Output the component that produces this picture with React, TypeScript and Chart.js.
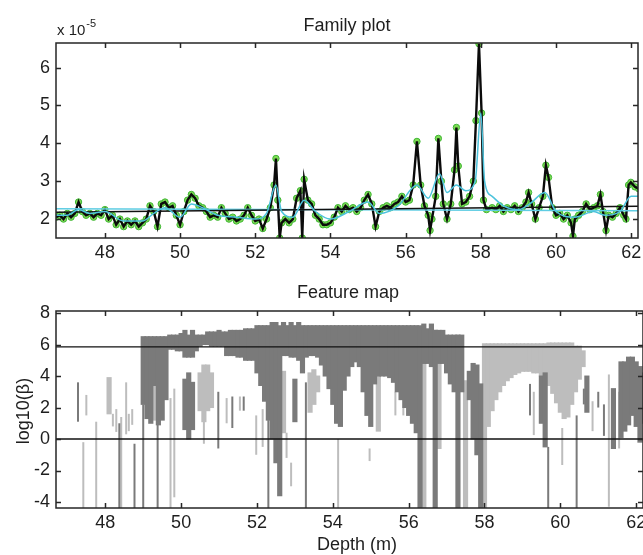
import React, { useEffect, useRef } from "react";
import { Chart, registerables } from "chart.js";

Chart.register(...registerables);

const FONT = '"Liberation Sans", Arial, Helvetica, sans-serif';

// ---------- axes ----------
const depthRange = [46.7, 62.18];
const depthTicks = [48, 50, 52, 54, 56, 58, 60, 62];
const familyRange = [1.5, 6.65];
const familyTicks = [2, 3, 4, 5, 6];
const featureRange = [-4.38, 8.13];
const featureTicks = [-4, -2, 0, 2, 4, 6, 8];

// ---------- Family plot (x 10^-5) ----------
const signal: [number, number][] = [
  [46.7, 2.05], [46.8, 2.1], [46.9, 2.0], [47.0, 2.15], [47.1, 2.05], [47.2, 2.15], [47.3, 2.45], [47.4, 2.2],
  [47.5, 2.1], [47.6, 2.15], [47.7, 2.05], [47.8, 2.15], [47.9, 2.1], [48.0, 2.25], [48.1, 2.0], [48.2, 2.1],
  [48.3, 1.85], [48.4, 2.0], [48.5, 1.8], [48.6, 1.95], [48.7, 1.85], [48.8, 1.95], [48.9, 1.8], [49.0, 1.9],
  [49.1, 2.0], [49.2, 2.35], [49.3, 2.2], [49.4, 1.8], [49.5, 2.4], [49.6, 2.45], [49.7, 2.3], [49.8, 2.35],
  [49.9, 2.1], [50.0, 1.85], [50.1, 2.2], [50.2, 2.5], [50.3, 2.65], [50.4, 2.55], [50.5, 2.35], [50.6, 2.3],
  [50.7, 2.2], [50.8, 2.05], [50.9, 2.1], [51.0, 2.05], [51.1, 2.3], [51.2, 2.15], [51.3, 2.0], [51.4, 2.05],
  [51.5, 1.95], [51.6, 2.0], [51.7, 2.1], [51.8, 2.3], [51.9, 2.1], [52.0, 1.95], [52.1, 2.0], [52.2, 1.75],
  [52.3, 2.0], [52.4, 2.3], [52.5, 2.9], [52.55, 3.6], [52.6, 2.5], [52.65, 1.5], [52.7, 1.9], [52.8, 2.0],
  [52.9, 1.9], [53.0, 2.0], [53.1, 2.55], [53.2, 2.75], [53.25, 1.5], [53.3, 3.05], [53.4, 2.5], [53.5, 2.4],
  [53.6, 2.1], [53.7, 2.0], [53.8, 1.85], [53.9, 1.85], [54.0, 1.9], [54.1, 2.05], [54.2, 2.3], [54.3, 2.2],
  [54.4, 2.35], [54.5, 2.25], [54.6, 2.3], [54.7, 2.2], [54.8, 2.3], [54.9, 2.5], [55.0, 2.65], [55.1, 2.4],
  [55.2, 1.8], [55.3, 2.2], [55.4, 2.3], [55.5, 2.35], [55.6, 2.3], [55.7, 2.4], [55.8, 2.45], [55.9, 2.6],
  [56.0, 2.45], [56.1, 2.5], [56.2, 2.9], [56.3, 4.05], [56.4, 2.9], [56.5, 2.35], [56.6, 2.1], [56.65, 1.7],
  [56.7, 2.0], [56.8, 2.6], [56.87, 4.13], [56.95, 3.0], [57.0, 2.4], [57.1, 2.0], [57.2, 2.4], [57.3, 3.3],
  [57.35, 4.42], [57.4, 3.4], [57.5, 2.4], [57.6, 2.45], [57.7, 2.6], [57.8, 3.0], [57.87, 4.6], [57.95, 6.63],
  [58.02, 4.8], [58.07, 2.5], [58.15, 2.25], [58.3, 2.3], [58.4, 2.25], [58.5, 2.35], [58.6, 2.2], [58.7, 2.3],
  [58.8, 2.25], [58.9, 2.35], [59.0, 2.2], [59.1, 2.3], [59.2, 2.45], [59.27, 2.7], [59.35, 2.4], [59.45, 2.0],
  [59.55, 2.3], [59.65, 2.6], [59.73, 3.42], [59.8, 3.1], [59.9, 2.3], [60.0, 2.1], [60.1, 2.15], [60.2, 2.0],
  [60.3, 2.1], [60.4, 1.9], [60.45, 1.55], [60.5, 2.0], [60.6, 2.1], [60.7, 2.2], [60.8, 2.4], [60.9, 2.25],
  [61.0, 2.3], [61.1, 2.35], [61.18, 2.65], [61.25, 2.2], [61.33, 1.7], [61.4, 2.1], [61.5, 2.05], [61.6, 2.15],
  [61.7, 2.3], [61.8, 2.1], [61.86, 2.0], [61.93, 2.9], [61.99, 2.97], [62.1, 2.85], [62.2, 2.8],
];

const fit: [number, number][] = [
  [46.7, 2.1], [47.0, 2.1], [47.3, 2.25], [47.6, 2.15], [48.0, 2.2], [48.5, 1.95], [49.0, 1.95], [49.3, 2.15],
  [49.6, 2.3], [50.0, 2.05], [50.3, 2.4], [50.6, 2.3], [51.0, 2.1], [51.5, 2.05], [52.0, 2.0], [52.3, 2.15],
  [52.55, 2.9], [52.7, 2.2], [53.0, 2.05], [53.3, 2.5], [53.6, 2.2], [54.0, 2.0], [54.5, 2.2], [55.0, 2.45],
  [55.3, 2.15], [55.8, 2.35], [56.3, 2.9], [56.6, 2.55], [56.9, 3.2], [57.1, 2.7], [57.35, 2.9], [57.6, 2.75],
  [57.85, 3.0], [58.0, 4.8], [58.1, 3.0], [58.3, 2.6], [58.6, 2.35], [59.0, 2.25], [59.3, 2.4], [59.7, 2.7],
  [60.0, 2.2], [60.5, 2.05], [61.0, 2.2], [61.3, 2.1], [61.7, 2.2], [62.0, 2.6], [62.2, 2.6],
];

const baseDepth = [46.7, 62.2];
const baseBlack = [2.18, 2.34];
const baseCyan = [2.27, 2.22];

// ---------- Feature map: [depth, low, high] ----------
const darkColumns: [number, number, number][] = [
  [49.0, 2.2, 6.5], [49.1, 1.3, 6.5], [49.2, 1.0, 6.5], [49.3, 3.4, 6.5], [49.4, 0.9, 6.5], [49.5, 1.2, 6.5],
  [49.6, 2.5, 6.5], [49.7, 5.7, 6.6], [49.8, 5.7, 6.6], [49.9, 5.6, 6.6], [50.0, 5.6, 6.7], [50.1, 5.2, 6.9],
  [50.2, 5.2, 6.6], [50.3, 5.2, 6.9], [50.4, 5.6, 6.6], [50.5, 5.9, 6.6], [50.6, 6.0, 6.6], [50.7, 6.0, 6.8],
  [50.8, 5.9, 6.8], [50.9, 5.9, 6.8], [51.0, 5.9, 6.9], [51.1, 5.9, 6.8], [51.2, 5.3, 6.8], [51.3, 5.3, 6.9],
  [51.4, 5.3, 6.9], [51.5, 5.2, 6.9], [51.6, 5.2, 6.9], [51.7, 5.0, 7.0], [51.8, 5.0, 7.0], [51.9, 5.0, 7.0],
  [52.0, 4.2, 7.2], [52.1, 3.4, 7.2], [52.2, 2.4, 7.2], [52.3, 1.2, 7.2], [52.4, 0.0, 7.4], [52.5, -1.5, 7.4],
  [52.6, -3.6, 7.2], [52.7, 5.3, 7.4], [52.8, 5.3, 7.2], [52.9, 5.2, 7.4], [53.0, 5.2, 7.2], [53.1, 5.0, 7.4],
  [53.2, 4.2, 7.2], [53.3, 5.2, 7.2], [53.4, 5.3, 7.2], [53.5, 5.3, 7.2], [53.6, 5.2, 7.2], [53.7, 4.7, 7.2],
  [53.8, 4.0, 7.2], [53.9, 3.2, 7.2], [54.0, 2.2, 7.2], [54.1, 1.0, 7.2], [54.2, 0.8, 7.2], [54.3, 3.1, 7.2],
  [54.4, 4.0, 7.2], [54.5, 4.6, 7.2], [54.6, 4.9, 7.2], [54.7, 4.6, 7.2], [54.8, 3.0, 7.2], [54.9, 1.5, 7.2],
  [55.0, 0.8, 7.2], [55.1, 3.5, 7.2], [55.2, 4.0, 7.2], [55.3, 4.0, 7.2], [55.4, 4.0, 7.2], [55.5, 3.9, 7.2],
  [55.6, 3.6, 7.2], [55.7, 3.0, 7.2], [55.8, 2.5, 7.2], [55.9, 2.0, 7.2], [56.0, 1.5, 7.2], [56.1, 1.0, 7.2],
  [56.2, 0.4, 7.2], [56.3, -4.4, 7.2], [56.4, 4.8, 7.3], [56.5, 4.8, 7.0], [56.6, 4.6, 7.3], [56.7, -4.4, 6.9],
  [56.8, 4.8, 6.9], [56.9, 4.8, 6.9], [57.0, 4.2, 6.6], [57.1, 3.5, 6.6], [57.2, 3.0, 6.6], [57.3, -4.4, 6.6],
  [57.4, 3.0, 6.6],
  [50.1, 0.6, 3.8], [50.2, 0.0, 4.2], [50.3, 0.6, 3.6], [53.0, 1.1, 3.8],
  [57.6, 2.5, 4.3], [57.7, 0.0, 4.8], [57.8, -1.0, 4.7], [57.9, -4.4, 3.5],
  [59.5, 1.0, 4.0], [59.6, -0.5, 4.2], [60.7, 1.7, 4.0], [61.4, -0.6, 3.2],
  [61.6, 0.1, 4.9], [61.7, 0.5, 4.9], [61.8, 0.9, 5.2], [61.9, 1.5, 5.2], [62.0, 0.8, 4.9], [62.1, -0.2, 4.6],
  [62.2, 1.0, 4.2],
];

const lightColumns: [number, number, number][] = [
  [48.1, 1.6, 3.9], [49.3, 1.2, 3.4], [50.5, 1.8, 4.2], [50.6, 1.1, 4.7], [50.7, 1.8, 4.7], [50.8, 2.0, 4.2],
  [52.7, 0.4, 4.3], [53.4, 1.7, 4.2], [53.5, 2.2, 4.4], [53.6, 3.0, 4.0], [55.2, 0.5, 4.0], [56.4, -4.4, 4.8],
  [56.8, -0.6, 4.8], [57.5, -4.4, 3.7],
  [58.0, -4.4, 6.05], [58.1, 0.8, 6.05], [58.2, 1.8, 6.05], [58.3, 2.5, 6.05], [58.4, 3.0, 6.05], [58.5, 3.4, 6.05],
  [58.6, 3.7, 6.05], [58.7, 3.9, 6.05], [58.8, 4.1, 6.05], [58.9, 4.2, 6.05], [59.0, 4.3, 6.05], [59.1, 4.3, 6.05],
  [59.2, 4.3, 6.05], [59.3, 4.2, 6.05], [59.4, 4.2, 6.05], [59.5, 4.0, 6.05], [59.6, 3.8, 6.05], [59.7, 3.4, 6.1],
  [59.8, 2.9, 6.1], [59.9, 2.3, 6.1], [60.0, 1.7, 6.1], [60.1, 1.3, 6.1], [60.2, 1.4, 6.1], [60.3, 2.2, 6.1],
  [60.4, 3.0, 5.9], [60.5, 3.8, 5.9], [60.6, 4.6, 5.6],
];

const darkLines: [number, number, number][] = [
  [47.28, 1.1, 3.6], [48.37, -4.4, 1.0], [48.77, -4.4, -0.3], [49.0, -4.4, 2.2], [49.38, -4.4, 0.9],
  [50.98, -0.6, 3.0], [51.35, 0.7, 2.7], [51.65, 1.8, 2.7], [52.3, -4.4, 1.2], [53.29, -4.4, 3.6],
  [59.2, 1.5, 3.5], [59.68, -4.4, -0.5], [60.43, -4.4, 1.5], [60.62, 2.2, 3.2], [61.0, 2.0, 3.0], [61.15, 0.2, 2.2],
];

const lightLines: [number, number, number][] = [
  [47.42, -4.4, -0.2], [47.5, 1.5, 2.8], [47.76, -4.4, 1.1], [48.2, 0.8, 1.6], [48.29, 0.45, 1.9], [48.42, -4.4, 1.4],
  [48.55, 0.3, 3.6], [48.62, 0.5, 1.6], [48.71, 0.9, 1.9], [49.72, -4.4, 2.6], [49.82, -3.7, 3.2], [50.6, -0.3, 1.1],
  [51.2, 1.0, 2.6], [51.55, 1.8, 2.7], [51.98, -1.0, 1.5], [52.15, -0.5, 1.9], [52.78, -1.2, 0.4], [52.9, -3.0, -1.5],
  [54.14, -4.4, 0.0], [54.97, -1.4, -0.6], [55.65, 1.5, 3.0], [55.86, 1.5, 3.5], [59.3, 0.25, 3.0], [60.05, -1.65, 0.7],
  [60.85, 0.5, 2.4], [61.28, -4.3, 4.1], [61.55, -0.6, 3.0],
];

const thresholdLevels = [5.85, 0];

// ---------- helpers ----------
type TextItem = { text: string; x: number; y: number; size: number; align?: CanvasTextAlign; rotate?: boolean; sup?: string };

function framePlugin(texts: TextItem[]) {
  return {
    id: "frame",
    afterDraw(chart: any) {
      const { ctx, chartArea: a, scales } = chart;
      ctx.save();
      ctx.strokeStyle = "#262626";
      ctx.lineWidth = 1.5;
      ctx.strokeRect(a.left, a.top, a.right - a.left, a.bottom - a.top);
      const t = 5;
      ctx.beginPath();
      scales.x.ticks.forEach((tk: any) => {
        const px = Math.round(scales.x.getPixelForValue(tk.value)) + 0.5;
        ctx.moveTo(px, a.bottom);
        ctx.lineTo(px, a.bottom - t);
        ctx.moveTo(px, a.top);
        ctx.lineTo(px, a.top + t);
      });
      scales.y.ticks.forEach((tk: any) => {
        const py = Math.round(scales.y.getPixelForValue(tk.value)) + 0.5;
        ctx.moveTo(a.left, py);
        ctx.lineTo(a.left + t, py);
        ctx.moveTo(a.right, py);
        ctx.lineTo(a.right - t, py);
      });
      ctx.stroke();
      ctx.fillStyle = "#1e1e1e";
      ctx.textBaseline = "alphabetic";
      texts.forEach((it) => {
        ctx.font = `${it.size}px ${FONT}`;
        ctx.textAlign = it.align || "center";
        if (it.rotate) {
          ctx.save();
          ctx.translate(it.x, it.y);
          ctx.rotate(-Math.PI / 2);
          ctx.fillText(it.text, 0, 0);
          ctx.restore();
        } else {
          ctx.fillText(it.text, it.x, it.y);
          if (it.sup) {
            const w = ctx.measureText(it.text).width;
            ctx.font = `${Math.round(it.size * 0.72)}px ${FONT}`;
            ctx.textAlign = "left";
            ctx.fillText(it.sup, it.x + w + 1, it.y - 8);
          }
        }
      });
      ctx.restore();
    },
  };
}

const TICK_FONT = { family: FONT, size: 18 };

function xScale(height: number) {
  return {
    type: "linear",
    min: depthRange[0],
    max: depthRange[1],
    offset: false,
    grid: { display: false, drawTicks: false },
    border: { display: false },
    ticks: { color: "#1e1e1e", font: TICK_FONT, padding: 4, maxRotation: 0, autoSkip: false, callback: (v: any) => String(v) },
    afterBuildTicks: (s: any) => { s.ticks = depthTicks.map((v) => ({ value: v })); },
    afterFit: (s: any) => { s.height = height; s.paddingLeft = 0; s.paddingRight = 0; },
  };
}

function yScale(range: number[], ticks: number[]) {
  return {
    type: "linear",
    min: range[0],
    max: range[1],
    grid: { display: false, drawTicks: false },
    border: { display: false },
    ticks: { color: "#1e1e1e", font: TICK_FONT, padding: 6, autoSkip: false, callback: (v: any) => String(v) },
    afterBuildTicks: (s: any) => { s.ticks = ticks.map((v) => ({ value: v })); },
    afterFit: (s: any) => { s.width = 56; s.paddingTop = 0; s.paddingBottom = 0; },
  };
}

const H1 = 275;
const H2 = 280;

export default function App() {
  const ref1 = useRef<HTMLCanvasElement>(null);
  const ref2 = useRef<HTMLCanvasElement>(null);

  useEffect(() => {
    const pts = (arr: [number, number][]) => arr.map(([x, y]) => ({ x, y }));
    const bars = (arr: [number, number, number][]) => arr.map(([x, lo, hi]) => ({ x, y: [lo, hi] }));

    const c1 = new Chart(ref1.current as HTMLCanvasElement, {
      type: "line",
      data: {
        datasets: [
          { data: pts(fit), borderColor: "#4cc3dc", borderWidth: 1.5, pointRadius: 0, cubicInterpolationMode: "monotone", order: 0 },
          { data: baseDepth.map((x, i) => ({ x, y: baseBlack[i] })), borderColor: "#111", borderWidth: 1.6, pointRadius: 0, order: 1 },
          { data: baseDepth.map((x, i) => ({ x, y: baseCyan[i] })), borderColor: "#5fcde3", borderWidth: 1.5, pointRadius: 0, order: 2 },
          { data: pts(signal), borderColor: "#0b0b0b", borderWidth: 2.4, pointRadius: 0, order: 3 },
          { data: pts(signal), showLine: false, pointRadius: 3.2, pointBackgroundColor: "#7fdc55", pointBorderColor: "#3fb535", pointBorderWidth: 1, order: 4 },
        ] as any,
      },
      options: {
        animation: false,
        responsive: false,
        events: [],
        layout: { padding: { top: 43, left: 0, right: 0, bottom: 0 } },
        plugins: { legend: { display: false }, tooltip: { enabled: false } },
        scales: { x: xScale(H1 - 238) as any, y: yScale(familyRange, familyTicks) as any },
      },
      plugins: [
        framePlugin([
          { text: "Family plot", x: 347, y: 31, size: 18 },
          { text: "x 10", x: 57, y: 35, size: 15, align: "left", sup: "-5" },
        ]),
      ],
    });

    const c2 = new Chart(ref2.current as HTMLCanvasElement, {
      type: "bar",
      data: {
        datasets: [
          ...thresholdLevels.map((lv) => ({
            type: "line",
            data: depthRange.map((x) => ({ x, y: lv })),
            borderColor: "#111",
            borderWidth: 1.4,
            pointRadius: 0,
            order: 0,
          })),
          { type: "bar", data: bars(darkLines), xAxisID: "x2", backgroundColor: "#7a7a7a", grouped: false, maxBarThickness: 2, barThickness: 2, inflateAmount: 0, order: 1 },
          { type: "bar", data: bars(darkColumns), backgroundColor: "#7a7a7a", grouped: false, barPercentage: 1.1, categoryPercentage: 1, inflateAmount: 0.5, order: 2 },
          { type: "bar", data: bars(lightLines), xAxisID: "x2", backgroundColor: "#bdbdbd", grouped: false, maxBarThickness: 2, barThickness: 2, inflateAmount: 0, order: 3 },
          { type: "bar", data: bars(lightColumns), backgroundColor: "#bdbdbd", grouped: false, barPercentage: 1.1, categoryPercentage: 1, inflateAmount: 0.5, order: 4 },
        ] as any,
      },
      options: {
        animation: false,
        responsive: false,
        events: [],
        layout: { padding: { top: 36, left: 0, right: 0, bottom: 0 } },
        plugins: { legend: { display: false }, tooltip: { enabled: false } },
        scales: {
          x: xScale(H2 - 233) as any,
          x2: { type: "linear", display: false, min: depthRange[0], max: depthRange[1], offset: false } as any,
          y: yScale(featureRange, featureTicks) as any,
        },
      },
      plugins: [
        framePlugin([
          { text: "Feature map", x: 348, y: 23, size: 18 },
          { text: "Depth (m)", x: 357, y: 275, size: 18 },
          { text: "log10(β)", x: 29, y: 136, size: 18, rotate: true },
        ]),
      ],
    });

    return () => {
      c1.destroy();
      c2.destroy();
    };
  }, []);

  return (
    <div style={{ position: "absolute", left: 0, top: 0, width: 643, height: 555, background: "#fff" }}>
      <canvas ref={ref1} width={643} height={H1} style={{ position: "absolute", left: 0, top: 0, display: "block" }} />
      <canvas ref={ref2} width={643} height={H2} style={{ position: "absolute", left: 0, top: H1, display: "block" }} />
    </div>
  );
}
